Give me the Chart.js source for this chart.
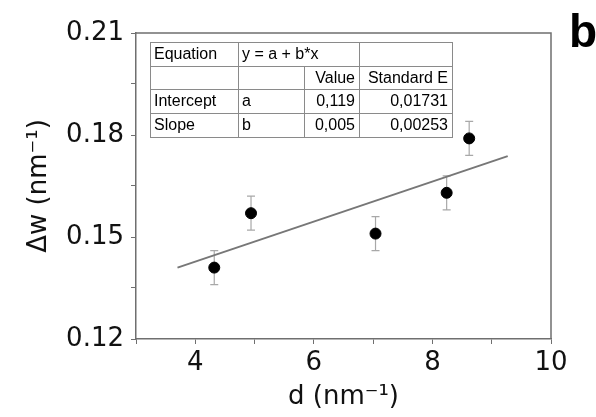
<!DOCTYPE html>
<html>
<head>
<meta charset="utf-8">
<script src="https://cdn.jsdelivr.net/npm/chart.js@4.4.1/dist/chart.umd.min.js"></script>
<style>
  html, body { margin: 0; padding: 0; background: #fff; }
  #wrap { position: relative; width: 596px; height: 417px; }
</style>
</head>
<body>
<div id="wrap"><canvas id="chart" width="596" height="417"></canvas></div>
<script>
// measured points
const dValues = [4.32, 4.94, 7.04, 8.24, 8.62];
const dwValues = [0.141, 0.157, 0.151, 0.163, 0.179];
const dwErrors = [0.005, 0.005, 0.005, 0.005, 0.005];

// linear fit, ends as drawn
const fitX = [3.7, 9.27];
const fitY = [0.141, 0.1738];

// fit table
const tableRows = [
  ['Equation', 'y = a + b*x', '', ''],
  ['', '', 'Value', 'Standard E'],
  ['Intercept', 'a', '0,119', '0,01731'],
  ['Slope', 'b', '0,005', '0,00253']
];

const axisColor = '#6f6f6f';

const frameAndExtras = {
  id: 'frameAndExtras',
  beforeDatasetsDraw(chart) {
    const { ctx, scales: { x, y } } = chart;
    // error bars
    ctx.save();
    ctx.strokeStyle = '#a8a8a8';
    ctx.lineWidth = 1.2;
    dValues.forEach((d, i) => {
      const px = x.getPixelForValue(d);
      const top = y.getPixelForValue(dwValues[i] + dwErrors[i]);
      const bot = y.getPixelForValue(dwValues[i] - dwErrors[i]);
      ctx.beginPath();
      ctx.moveTo(px, top); ctx.lineTo(px, bot);
      ctx.moveTo(px - 4, top); ctx.lineTo(px + 4, top);
      ctx.moveTo(px - 4, bot); ctx.lineTo(px + 4, bot);
      ctx.stroke();
    });
    ctx.restore();
  },
  afterDraw(chart) {
    const { ctx, chartArea: a } = chart;
    ctx.save();
    // top and right frame
    ctx.strokeStyle = axisColor;
    ctx.lineWidth = 1.5;
    ctx.beginPath();
    ctx.moveTo(a.left, a.top); ctx.lineTo(a.right, a.top); ctx.lineTo(a.right, a.bottom);
    ctx.stroke();

    // table
    const cols = [150, 238, 304, 359, 452];
    const rows = [42, 66, 89, 113, 137];
    ctx.fillStyle = '#fff';
    ctx.fillRect(cols[0], rows[0], cols[4] - cols[0], rows[4] - rows[0]);
    ctx.strokeStyle = '#8a8a8a';
    ctx.lineWidth = 1;
    ctx.strokeRect(cols[0] + 0.5, rows[0] + 0.5, cols[4] - cols[0], rows[4] - rows[0]);
    ctx.beginPath();
    for (let r = 1; r < 4; r++) {
      ctx.moveTo(cols[0], rows[r] + 0.5); ctx.lineTo(cols[4], rows[r] + 0.5);
    }
    [1, 3].forEach(c => { ctx.moveTo(cols[c] + 0.5, rows[0]); ctx.lineTo(cols[c] + 0.5, rows[4]); });
    ctx.moveTo(cols[2] + 0.5, rows[1]); ctx.lineTo(cols[2] + 0.5, rows[4]);
    ctx.stroke();

    ctx.fillStyle = '#000';
    ctx.font = '16px "Liberation Sans", Arial, sans-serif';
    ctx.textBaseline = 'middle';
    tableRows.forEach((row, r) => {
      const cy = (rows[r] + rows[r + 1]) / 2 + 1;
      row.forEach((txt, c) => {
        if (!txt) return;
        if (c < 2) {
          ctx.textAlign = 'left';
          ctx.fillText(txt, cols[c] + 4, cy);
        } else {
          ctx.textAlign = 'right';
          ctx.fillText(txt, cols[c + 1] - 4, cy);
        }
      });
    });

    // panel letter
    ctx.font = 'bold 46px "Liberation Sans", Arial, sans-serif';
    ctx.textAlign = 'left';
    ctx.textBaseline = 'alphabetic';
    ctx.fillText('b', 569, 47);
    ctx.restore();
  }
};

new Chart(document.getElementById('chart'), {
  type: 'scatter',
  data: {
    datasets: [
      {
        label: 'fit',
        data: fitX.map((v, i) => ({ x: v, y: fitY[i] })),
        showLine: true,
        borderColor: '#777',
        borderWidth: 2,
        pointRadius: 0
      },
      {
        label: 'Δw',
        data: dValues.map((v, i) => ({ x: v, y: dwValues[i] })),
        backgroundColor: '#000',
        borderColor: '#000',
        pointRadius: 5.5
      }
    ]
  },
  plugins: [frameAndExtras],
  options: {
    responsive: false,
    animation: false,
    layout: { padding: { top: 33, right: 45, left: 20, bottom: 0 } },
    plugins: { legend: { display: false }, tooltip: { enabled: false } },
    scales: {
      x: {
        type: 'linear',
        min: 3, max: 10,
        afterFit(s) { s.height = 78; },
        border: { color: axisColor, width: 1.5 },
        grid: { drawOnChartArea: false, tickLength: 5, color: axisColor },
        ticks: {
          stepSize: 1, autoSkip: false, maxRotation: 0, padding: 4,
          color: '#111',
          font: { family: '"DejaVu Sans", Verdana, sans-serif', size: 26 },
          callback: v => (v % 2 === 0 ? String(v) : '')
        },
        title: {
          display: true, text: 'd (nm⁻¹)', color: '#111', padding: { top: 0 },
          font: { family: '"DejaVu Sans", Verdana, sans-serif', size: 26 }
        }
      },
      y: {
        min: 0.12, max: 0.21,
        afterFit(s) { s.width = 116; },
        border: { color: axisColor, width: 1.5 },
        grid: { drawOnChartArea: false, tickLength: 5, color: axisColor },
        ticks: {
          stepSize: 0.015, autoSkip: false, padding: 7,
          color: '#111',
          font: { family: '"DejaVu Sans", Verdana, sans-serif', size: 26 },
          callback: v => (Math.round(v * 1000) % 30 === 0 ? v.toFixed(2) : '')
        },
        title: {
          display: true, text: 'Δw (nm⁻¹)', color: '#111', padding: { bottom: 0 },
          font: { family: '"DejaVu Sans", Verdana, sans-serif', size: 26 }
        }
      }
    }
  }
});
</script>
</body>
</html>
